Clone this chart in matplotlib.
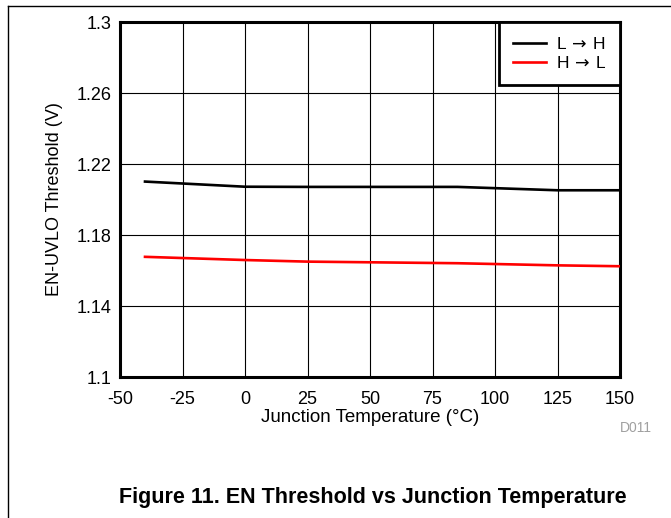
import matplotlib
matplotlib.use("Agg")
import matplotlib.pyplot as plt
from matplotlib.lines import Line2D
from matplotlib.ticker import FuncFormatter

plt.rcParams["font.family"] = ["Liberation Sans", "DejaVu Sans"]
plt.rcParams["axes.unicode_minus"] = False

# data
temp = [-40, 0, 25, 85, 125, 150]
uvlo_rise = [1.2101, 1.2072, 1.2071, 1.2071, 1.2052, 1.2052]   # L -> H
uvlo_fall = [1.1677, 1.1659, 1.1650, 1.1641, 1.1629, 1.1624]   # H -> L
x_ticks = [-50, -25, 0, 25, 50, 75, 100, 125, 150]
y_ticks = [1.1, 1.14, 1.18, 1.22, 1.26, 1.3]


def main():
    fig = plt.figure(figsize=(6.71, 5.18), dpi=100)
    ax = fig.add_axes([120 / 671, 1 - 377 / 518, 500 / 671, 355 / 518])

    ax.plot(temp, uvlo_rise, color="black", lw=1.9, label="L$\\,\\rightarrow\\,$H", zorder=3)
    ax.plot(temp, uvlo_fall, color="red", lw=1.9, label="H$\\,\\rightarrow\\,$L", zorder=3)

    ax.set_xlim(-50, 150)
    ax.set_ylim(1.1, 1.3)
    ax.set_xticks(x_ticks)
    ax.set_yticks(y_ticks)
    ax.yaxis.set_major_formatter(FuncFormatter(lambda v, p: f"{v:g}"))
    ax.tick_params(axis="y", length=0, labelsize=13, pad=6)
    ax.tick_params(axis="x", length=0, labelsize=13, pad=10)
    ax.grid(True, color="black", lw=0.8)
    for s in ax.spines.values():
        s.set_linewidth(2.2)

    ax.set_xlabel("Junction Temperature (\u00b0C)", fontsize=13.5, labelpad=1)
    ax.set_ylabel("EN-UVLO Threshold (V)", fontsize=13, labelpad=10)

    leg = ax.legend(loc="upper right", fontsize=12.5, frameon=True, fancybox=False,
                    borderaxespad=0, handlelength=1.9, borderpad=0.8,
                    labelspacing=0.2, handletextpad=0.55)
    leg.get_frame().set_edgecolor("black")
    leg.get_frame().set_linewidth(2.0)
    leg.get_frame().set_alpha(1)

    fig.text(652 / 671, 1 - 428 / 518, "D011", color="#a0a0a0", fontsize=10,
             ha="right", va="center")
    fig.text(373 / 671, 1 - 498 / 518,
             "Figure 11. EN Threshold vs Junction Temperature",
             fontsize=15.5, fontweight="bold", ha="center", va="center")

    # page frame lines
    fig.add_artist(Line2D([8 / 671, 1], [1 - 6 / 518, 1 - 6 / 518],
                          transform=fig.transFigure, color="black", lw=1))
    fig.add_artist(Line2D([8 / 671, 8 / 671], [0, 1 - 6 / 518],
                          transform=fig.transFigure, color="black", lw=1))

    fig.savefig("out.png", dpi=100)


if __name__ == "__main__":
    main()
